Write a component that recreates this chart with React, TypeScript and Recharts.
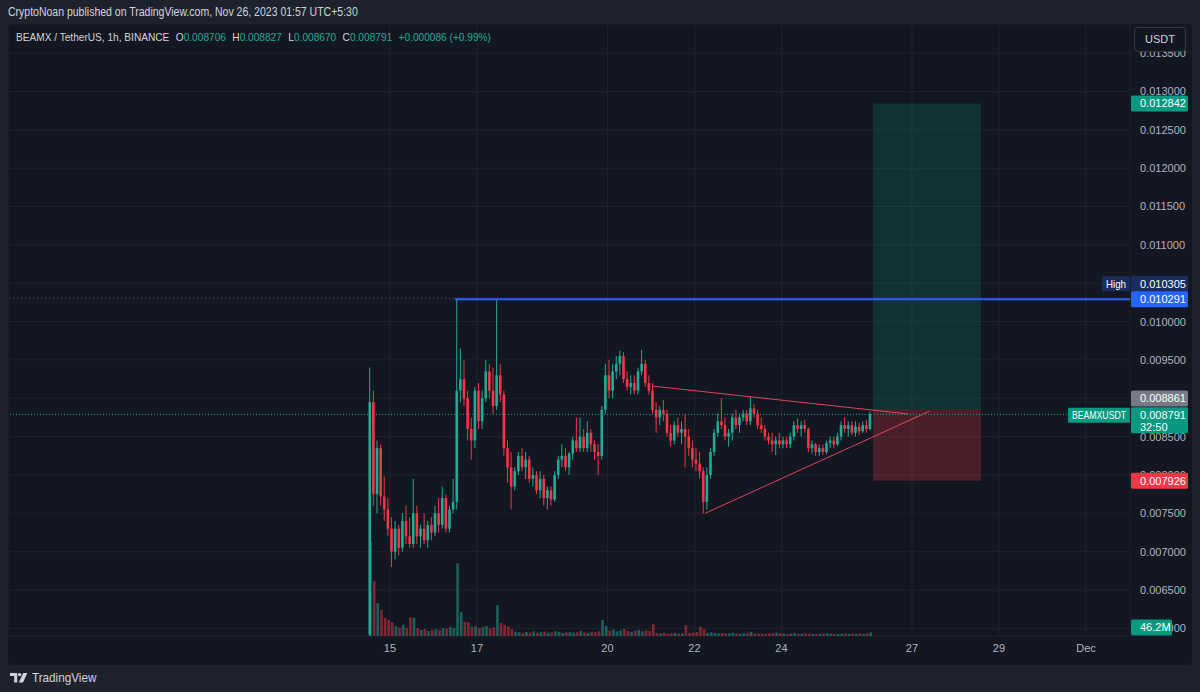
import React from 'react';
import {
  ComposedChart,
  Bar,
  XAxis,
  YAxis,
  CartesianGrid,
  ReferenceLine,
  ReferenceArea,
  Cell,
} from 'recharts';

// ---------- data (prices in milli-USDT, 2h candles) ----------
const START_HOUR = 13; // hours after Nov 14 00:00 of the first candle
const STEP_HOURS = 2;

const OPEN = [
  5.92, 8.95, 7.75, 8.35, 7.72, 7.55, 7.3, 7.0, 7.3, 7.05,
  7.4, 7.2, 7.1, 7.5, 7.2, 7.3, 7.15, 7.35, 7.25, 7.5,
  7.35, 7.7, 7.3, 7.55, 7.65, 9.1, 9.25, 9.0, 8.6, 8.45,
  9.1, 8.7, 9.0, 9.35, 9.1, 8.9, 9.3, 9.05, 8.35, 8.1,
  7.85, 8.05, 8.25, 8.1, 8.2, 7.95, 8.0, 7.8, 7.95, 7.7,
  7.8, 7.68, 8.0, 8.2, 8.25, 8.1, 8.28, 8.45, 8.35, 8.5,
  8.35, 8.55, 8.4, 8.3, 8.25, 8.85, 9.3, 9.1, 9.35, 9.45,
  9.55, 9.25, 9.15, 9.2, 9.1, 9.35, 9.45, 9.2, 9.1, 8.85,
  8.75, 8.85, 8.8, 8.55, 8.45, 8.65, 8.55, 8.6, 8.5, 8.35,
  8.2, 8.15, 8.05, 7.65, 8.0, 8.3, 8.55, 8.7, 8.65, 8.5,
  8.55, 8.75, 8.65, 8.75, 8.8, 8.7, 8.87, 8.8, 8.65, 8.6,
  8.5, 8.45, 8.4, 8.45, 8.4, 8.45, 8.4, 8.5, 8.65, 8.6,
  8.65, 8.6, 8.35, 8.4, 8.3, 8.35, 8.3, 8.42, 8.45, 8.4,
  8.5, 8.65, 8.6, 8.65, 8.55, 8.63, 8.57, 8.65, 8.6,
];
const HIGH = [
  9.4, 9.1, 8.45, 8.4, 7.98, 7.7, 7.45, 7.4, 7.35, 7.5,
  7.6, 7.45, 7.95, 7.6, 7.35, 7.5, 7.4, 7.45, 7.6, 7.7,
  7.85, 7.75, 7.6, 7.95, 10.305, 9.65, 9.5, 9.1, 8.75, 9.15,
  9.2, 9.1, 9.5, 9.45, 9.4, 10.28, 9.45, 9.1, 8.45, 8.3,
  8.1, 8.3, 8.35, 8.3, 8.25, 8.1, 8.05, 8.05, 8.0, 7.85,
  7.85, 8.05, 8.25, 8.4, 8.35, 8.3, 8.5, 8.75, 8.75, 8.6,
  8.7, 8.6, 8.45, 8.4, 8.9, 9.45, 9.5, 9.45, 9.55, 9.62,
  9.6, 9.35, 9.3, 9.3, 9.4, 9.63, 9.5, 9.3, 9.2, 8.95,
  8.9, 8.98, 8.85, 8.65, 8.7, 8.75, 8.7, 8.8, 8.6, 8.45,
  8.35, 8.3, 8.1, 8.1, 8.35, 8.6, 8.8, 9.0, 8.75, 8.6,
  8.8, 8.85, 8.8, 8.85, 8.85, 9.02, 8.92, 8.85, 8.75, 8.65,
  8.55, 8.55, 8.5, 8.55, 8.5, 8.5, 8.55, 8.7, 8.74, 8.7,
  8.72, 8.62, 8.45, 8.42, 8.4, 8.4, 8.45, 8.5, 8.5, 8.55,
  8.7, 8.75, 8.7, 8.7, 8.7, 8.68, 8.7, 8.72, 8.827,
];
const LOW = [
  5.9, 7.6, 7.5, 7.6, 7.4, 7.2, 6.8, 6.9, 6.95, 7.0,
  7.1, 7.05, 7.05, 7.1, 7.05, 7.1, 7.05, 7.15, 7.2, 7.25,
  7.3, 7.25, 7.25, 7.5, 7.55, 8.95, 8.9, 8.45, 8.2, 8.35,
  8.6, 8.6, 8.95, 9.0, 8.8, 8.85, 8.95, 8.25, 7.9, 7.55,
  7.8, 8.0, 8.05, 7.95, 7.9, 7.85, 7.75, 7.7, 7.6, 7.55,
  7.6, 7.65, 7.95, 8.1, 8.05, 8.0, 8.2, 8.3, 8.3, 8.3,
  8.3, 8.3, 8.2, 8.0, 8.2, 8.8, 9.0, 9.0, 9.25, 9.3,
  9.2, 9.1, 9.05, 9.05, 9.05, 9.3, 9.15, 9.05, 8.8, 8.55,
  8.65, 8.7, 8.5, 8.37, 8.4, 8.5, 8.4, 8.1, 8.25, 8.1,
  8.05, 7.95, 7.5, 7.55, 7.95, 8.25, 8.5, 8.6, 8.45, 8.37,
  8.45, 8.6, 8.55, 8.7, 8.65, 8.65, 8.75, 8.6, 8.55, 8.45,
  8.4, 8.3, 8.26, 8.35, 8.35, 8.35, 8.35, 8.45, 8.55, 8.5,
  8.55, 8.3, 8.28, 8.25, 8.25, 8.26, 8.27, 8.35, 8.35, 8.38,
  8.45, 8.55, 8.5, 8.52, 8.5, 8.52, 8.55, 8.55, 8.58,
];
const CLOSE = [
  8.95, 7.75, 8.35, 7.72, 7.55, 7.3, 7.0, 7.3, 7.05, 7.4,
  7.2, 7.1, 7.5, 7.2, 7.3, 7.15, 7.35, 7.25, 7.5, 7.35,
  7.7, 7.3, 7.55, 7.65, 9.1, 9.25, 9.0, 8.6, 8.45, 9.1,
  8.7, 9.0, 9.35, 9.1, 8.9, 9.3, 9.05, 8.35, 8.1, 7.85,
  8.05, 8.25, 8.1, 8.2, 7.95, 8.0, 7.8, 7.95, 7.7, 7.8,
  7.68, 8.0, 8.2, 8.25, 8.1, 8.28, 8.45, 8.35, 8.5, 8.35,
  8.55, 8.4, 8.3, 8.25, 8.85, 9.3, 9.1, 9.35, 9.45, 9.55,
  9.25, 9.15, 9.2, 9.1, 9.35, 9.45, 9.2, 9.1, 8.85, 8.75,
  8.85, 8.8, 8.55, 8.45, 8.65, 8.55, 8.6, 8.5, 8.35, 8.2,
  8.15, 8.05, 7.65, 8.0, 8.3, 8.55, 8.7, 8.65, 8.5, 8.55,
  8.75, 8.65, 8.75, 8.8, 8.7, 8.87, 8.8, 8.65, 8.6, 8.5,
  8.45, 8.4, 8.45, 8.4, 8.45, 8.4, 8.5, 8.65, 8.6, 8.65,
  8.6, 8.35, 8.4, 8.3, 8.35, 8.3, 8.42, 8.45, 8.4, 8.5,
  8.65, 8.6, 8.65, 8.55, 8.63, 8.57, 8.65, 8.6, 8.791,
];
// volume in millions of BEAMX
const VOLUME = [
  1235, 715, 430, 340, 235, 210, 180, 130, 115, 145,
  105, 245, 235, 105, 80, 90, 65, 80, 90, 75,
  100, 95, 120, 105, 950, 310, 185, 180, 120, 130,
  105, 115, 130, 100, 115, 400, 170, 145, 125, 90,
  55, 48, 40, 52, 45, 60, 42, 50, 58, 44,
  47, 62, 55, 40, 48, 52, 45, 50, 65, 46,
  42, 55, 48, 60, 210, 130, 70, 85, 60, 75,
  90, 65, 55, 70, 80, 60, 75, 65, 155, 40,
  35, 45, 30, 38, 42, 33, 36, 140, 40, 44,
  52, 120, 90, 38, 50, 42, 36, 40, 34, 38,
  45, 32, 30, 36, 42, 55, 35, 33, 30, 28,
  34, 38, 45, 36, 30, 26, 32, 40, 28, 30,
  34, 30, 26, 25, 28, 32, 36, 30, 27, 25,
  30, 34, 28, 31, 27, 35, 30, 33, 46.2,
];

const X_TICKS = [24, 72, 144, 192, 240, 312, 360, 408];
const X_TICK_LABELS = ['15', '17', '20', '22', '24', '27', '29', 'Dec'];
const PRICE_TICKS = [
  0.006, 0.0065, 0.007, 0.0075, 0.008, 0.0085, 0.009, 0.0095,
  0.01, 0.0105, 0.011, 0.0115, 0.012, 0.0125, 0.013, 0.0135,
];
const X_DOMAIN: [number, number] = [-186.76, 432.28];
const Y_DOMAIN: [number, number] = [0.0059009, 0.01388];
const VOL_DOMAIN: [number, number] = [0, 8000];

const LAST_OPEN = 0.008706;
const LAST_HIGH = 0.008827;
const LAST_LOW = 0.00867;
const LAST_CLOSE = 0.008791;
const LAST_CHANGE = 0.000086;
const LAST_CHANGE_PCT = 0.99;
const LAST_VOLUME = 46.2;
const COUNTDOWN = '32:50';

const TARGET = 0.012842;
const ENTRY = 0.008861;
const STOP = 0.007926;
const POS_START = 290.5;
const POS_END = 350.1;

const HIGH_PRICE = 0.010305;
const HIGH_LINE = 0.010291;
const HIGH_LINE_START = 59.9;

const TRI_UPPER = [
  { x: 168.6, y: 0.00916 },
  { x: 309.8, y: 0.008796 },
];
const TRI_LOWER = [
  { x: 197.8, y: 0.0075 },
  { x: 321.9, y: 0.008835 },
];

// ---------- styles ----------
const FONT = "'Liberation Sans', Arial, sans-serif";
const UP = '#22ab94';
const DOWN = '#f23645';
const VOL_UP = 'rgba(34,171,148,0.5)';
const VOL_DOWN = 'rgba(242,54,69,0.5)';
const AXIS_TEXT = '#b2b5be';
const PANE_BG = '#131722';
const OUTER_BG = '#1e222d';
const CHART_W = 1184;
const CHART_H = 641;
const AXIS_W = 62;
const TIME_H = 29;

const data = OPEN.map((o, i) => ({
  t: START_HOUR + i * STEP_HOURS,
  o: o / 1000,
  h: HIGH[i] / 1000,
  l: LOW[i] / 1000,
  c: CLOSE[i] / 1000,
  range: [LOW[i] / 1000, HIGH[i] / 1000],
  vol: VOLUME[i],
}));

const Candle = (props: any) => {
  const { x, y, width, height, payload } = props;
  if (!payload || x == null || y == null) return null;
  const { o, h, l, c } = payload;
  const up = c >= o;
  const color = up ? UP : DOWN;
  const top = Math.min(y, y + height);
  const hh = Math.abs(height);
  const ratio = h - l > 0 ? hh / (h - l) : 0;
  const cx = x + width / 2;
  const bodyTop = top + (h - Math.max(o, c)) * ratio;
  const bodyH = Math.max(1, Math.abs(o - c) * ratio);
  const bw = 2.6;
  return (
    <g>
      <line x1={cx} x2={cx} y1={top} y2={top + hh} stroke={color} strokeWidth={1} />
      <rect x={cx - bw / 2} y={bodyTop} width={bw} height={bodyH} fill={color} />
    </g>
  );
};

type TagOpts = {
  text: string;
  fill: string;
  dy?: number;
  width?: number;
  sub?: string;
  side?: { text: string; fill: string; width: number };
};

const makeTag = (opts: TagOpts) => (props: any) => {
  const vb = props.viewBox;
  if (!vb) return null;
  const x0 = vb.x + vb.width;
  const cy = vb.y + (opts.dy || 0);
  const w = opts.width || 57;
  const h = opts.sub ? 26 : 16;
  return (
    <g fontFamily={FONT} fontSize={11}>
      {opts.side && (
        <g>
          <rect x={x0 - opts.side.width} y={cy - 7.5} width={opts.side.width} height={15} rx={1.5} fill={opts.side.fill} />
          <text
            x={x0 - opts.side.width / 2}
            y={cy}
            dy="0.35em"
            textAnchor="middle"
            fill="#ffffff"
            textLength={opts.side.width - 8}
            lengthAdjust="spacingAndGlyphs"
          >
            {opts.side.text}
          </text>
        </g>
      )}
      <rect x={x0 + 1} y={cy - 8} width={w} height={h} rx={1.5} fill={opts.fill} />
      <text x={x0 + 10} y={cy} dy="0.35em" textAnchor="start" fill="#ffffff">
        {opts.text}
      </text>
      {opts.sub && (
        <text x={x0 + 10} y={cy + 12} dy="0.35em" textAnchor="start" fill="#ffffff">
          {opts.sub}
        </text>
      )}
    </g>
  );
};

const fmt = (v: number) => v.toFixed(6);

const TVLogo = () => (
  <svg width={18} height={11} viewBox="0 0 18 11" style={{ display: 'block' }}>
    <path d="M0 1h7.2v9.5H4.2V4H0z" fill="#d1d4dc" />
    <circle cx={9.6} cy={2.6} r={1.7} fill="#d1d4dc" />
    <path d="M13.2 1h4.2l-4.4 9.5H8.8z" fill="#d1d4dc" />
  </svg>
);

const axesFor = (withTicks: boolean) => [
  <XAxis
    key="x"
    type="number"
    dataKey="t"
    domain={X_DOMAIN}
    allowDataOverflow
    ticks={X_TICKS}
    interval={0}
    tickFormatter={(v: number) => X_TICK_LABELS[X_TICKS.indexOf(v)] ?? ''}
    tick={withTicks ? { fill: AXIS_TEXT, fontSize: 11, fontFamily: FONT } : false}
    tickLine={false}
    axisLine={false}
    tickSize={0}
    tickMargin={8}
    height={TIME_H}
  />,
  <XAxis key="xv" xAxisId="v" type="number" dataKey="t" domain={X_DOMAIN} allowDataOverflow hide />,
  <YAxis
    key="y"
    orientation="right"
    width={AXIS_W}
    domain={Y_DOMAIN}
    allowDataOverflow
    ticks={PRICE_TICKS}
    interval={0}
    tickFormatter={fmt}
    tick={withTicks ? { fill: AXIS_TEXT, fontSize: 11, fontFamily: FONT } : false}
    tickLine={false}
    axisLine={false}
    tickSize={0}
    tickMargin={10}
  />,
  <YAxis key="yv" yAxisId="v" domain={VOL_DOMAIN} allowDataOverflow hide />,
];

export default function App() {
  const legendVal = { color: '#22ab94' };
  const legendKey = { color: '#d1d4dc', marginLeft: 7 };
  return (
    <div
      style={{
        position: 'absolute',
        left: 0,
        top: 0,
        width: 1200,
        height: 692,
        background: OUTER_BG,
        overflow: 'hidden',
        fontFamily: FONT,
      }}
    >
      <div
        style={{
          position: 'absolute',
          left: 8,
          top: 5,
          fontSize: 12,
          color: '#d1d4dc',
          whiteSpace: 'nowrap',
          transform: 'scaleX(0.875)',
          transformOrigin: '0 0',
        }}
      >
        CryptoNoan published on TradingView.com, Nov 26, 2023 01:57 UTC+5:30
      </div>
      <div
        style={{
          position: 'absolute',
          left: 8,
          top: 24,
          width: CHART_W,
          height: CHART_H,
          background: PANE_BG,
          borderRadius: 4,
        }}
      />
      {/* main chart: grid, axes, position boxes, volume, candles, drawn lines */}
      <div style={{ position: 'absolute', left: 8, top: 24 }}>
        <ComposedChart width={CHART_W} height={CHART_H} data={data} margin={{ top: 0, right: 0, bottom: 0, left: 0 }}>
          <CartesianGrid stroke="#1f2330" strokeWidth={1} />
          {axesFor(true)}

          <ReferenceArea x1={POS_START} x2={POS_END} y1={ENTRY} y2={TARGET} fill="#089981" fillOpacity={0.2} stroke="none" ifOverflow="visible" />
          <ReferenceArea x1={POS_START} x2={POS_END} y1={STOP} y2={ENTRY} fill="#f23645" fillOpacity={0.25} stroke="none" ifOverflow="visible" />

          <Bar xAxisId="v" yAxisId="v" dataKey="vol" barSize={2.6} isAnimationActive={false}>
            {data.map((d, i) => (
              <Cell key={i} fill={d.c >= d.o ? VOL_UP : VOL_DOWN} />
            ))}
          </Bar>
          <Bar dataKey="range" barSize={3} isAnimationActive={false} shape={(p: any) => <Candle {...p} />} />

          <ReferenceLine y={HIGH_PRICE} stroke="#5d606b" strokeDasharray="1 3" ifOverflow="visible" />
          <ReferenceLine
            segment={[{ x: HIGH_LINE_START, y: HIGH_LINE }, { x: X_DOMAIN[1], y: HIGH_LINE }]}
            stroke="#2962ff"
            strokeWidth={2}
            ifOverflow="visible"
          />
          <ReferenceLine segment={TRI_UPPER} stroke="#e0455a" strokeWidth={1} ifOverflow="visible" />
          <ReferenceLine segment={TRI_LOWER} stroke="#e0455a" strokeWidth={1} ifOverflow="visible" />
          <ReferenceLine y={LAST_CLOSE} stroke="#22ab94" strokeDasharray="1 2" ifOverflow="visible" />
        </ComposedChart>
      </div>

      {/* overlay chart with the same scales: price tags on top of the axis labels */}
      <div style={{ position: 'absolute', left: 8, top: 24, pointerEvents: 'none' }}>
        <ComposedChart width={CHART_W} height={CHART_H} data={data} margin={{ top: 0, right: 0, bottom: 0, left: 0 }}>
          {axesFor(false)}
          <ReferenceLine y={HIGH_PRICE} stroke="none" ifOverflow="visible"
            label={makeTag({ text: fmt(HIGH_PRICE), fill: '#1a2d5c', dy: -14.5, side: { text: 'High', fill: '#1a2d5c', width: 28 } })}
          />
          <ReferenceLine y={HIGH_LINE} stroke="none" ifOverflow="visible"
            label={makeTag({ text: fmt(HIGH_LINE), fill: '#2962ff' })}
          />
          <ReferenceLine y={LAST_CLOSE} stroke="none" ifOverflow="visible"
            label={makeTag({
              text: fmt(LAST_CLOSE),
              sub: COUNTDOWN,
              fill: '#089981',
              dy: 1,
              side: { text: 'BEAMXUSDT', fill: '#089981', width: 62 },
            })}
          />
          <ReferenceLine y={ENTRY} stroke="none" ifOverflow="visible"
            label={makeTag({ text: fmt(ENTRY), fill: '#787b86', dy: -10.5 })}
          />
          <ReferenceLine y={TARGET} stroke="none" ifOverflow="visible"
            label={makeTag({ text: fmt(TARGET), fill: '#089981' })}
          />
          <ReferenceLine y={STOP} stroke="none" ifOverflow="visible"
            label={makeTag({ text: fmt(STOP), fill: '#f23645' })}
          />
          <ReferenceLine xAxisId="v" yAxisId="v" y={LAST_VOLUME} stroke="none" ifOverflow="visible"
            label={makeTag({ text: `${LAST_VOLUME}M`, fill: '#089981', width: 41, dy: -5 })}
          />
        </ComposedChart>
      </div>

      {/* legend line */}
      <div
        style={{
          position: 'absolute',
          left: 16,
          top: 31,
          fontSize: 11,
          color: '#d1d4dc',
          whiteSpace: 'nowrap',
          transform: 'scaleX(0.92)',
          transformOrigin: '0 0',
        }}
      >
        <span>BEAMX / TetherUS, 1h, BINANCE</span>
        <span style={legendKey}>O</span><span style={legendVal}>{fmt(LAST_OPEN)}</span>
        <span style={legendKey}>H</span><span style={legendVal}>{fmt(LAST_HIGH)}</span>
        <span style={legendKey}>L</span><span style={legendVal}>{fmt(LAST_LOW)}</span>
        <span style={legendKey}>C</span><span style={legendVal}>{fmt(LAST_CLOSE)}</span>
        <span style={{ ...legendVal, marginLeft: 7 }}>
          +{fmt(LAST_CHANGE)} (+{LAST_CHANGE_PCT.toFixed(2)}%)
        </span>
      </div>

      {/* currency button */}
      <div
        style={{
          position: 'absolute',
          left: 1134,
          top: 27,
          width: 52,
          height: 25,
          boxSizing: 'border-box',
          border: '1px solid #363a45',
          borderRadius: 4,
          background: PANE_BG,
          color: '#d1d4dc',
          fontSize: 11,
          lineHeight: '22px',
          textAlign: 'center',
        }}
      >
        USDT
      </div>

      {/* footer */}
      <div style={{ position: 'absolute', left: 10, top: 670, display: 'flex', alignItems: 'center', gap: 4 }}>
        <TVLogo />
        <span style={{ color: '#d1d4dc', fontSize: 13, display: 'inline-block', transform: 'scaleX(0.9)', transformOrigin: '0 50%' }}>
          TradingView
        </span>
      </div>
    </div>
  );
}
